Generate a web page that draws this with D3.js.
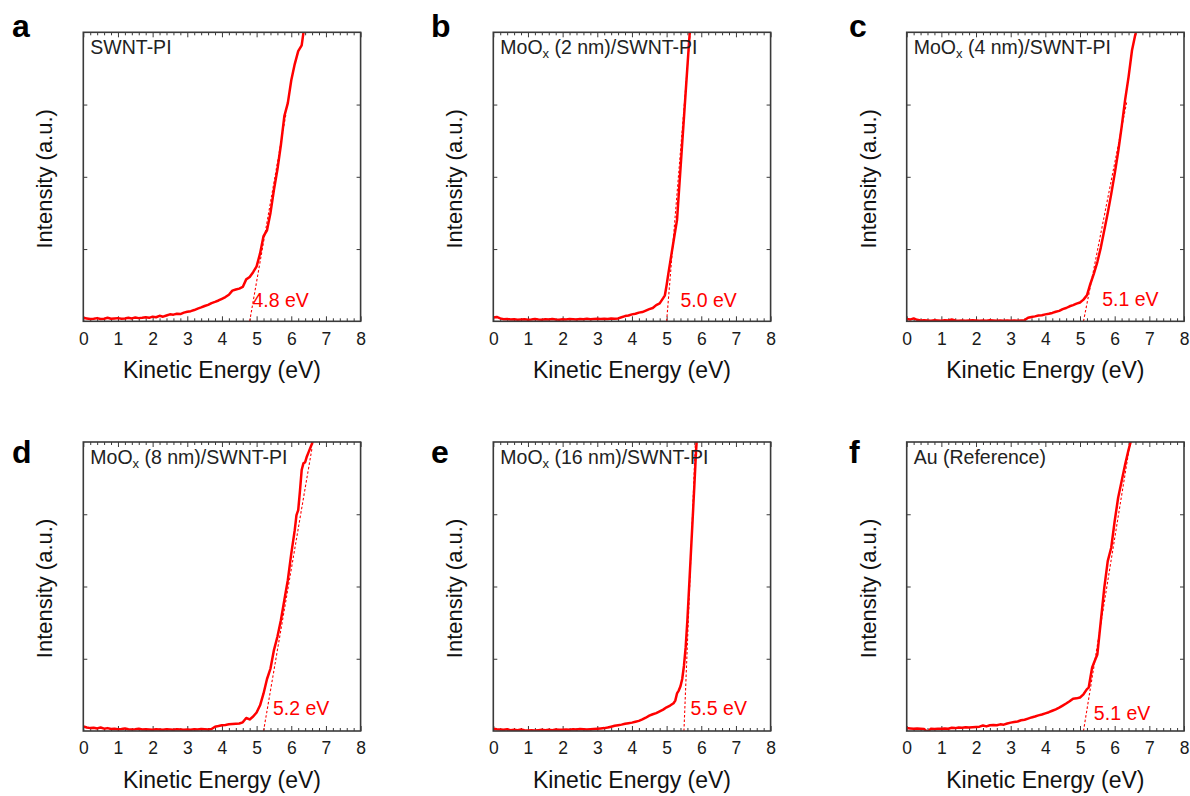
<!DOCTYPE html>
<html>
<head>
<meta charset="utf-8">
<script src="https://cdn.jsdelivr.net/npm/d3@7"></script>
<style>
  html, body { margin: 0; padding: 0; background: #fff; }
  svg { display: block; font-family: "Liberation Sans", Arial, Helvetica, sans-serif; }
</style>
</head>
<body>
<svg id="chart" width="1190" height="796"></svg>
<script>
// ---- Secondary-electron cutoff spectra (kinetic energy in eV, intensity in a.u.) ----
const panelLetters = ["a", "b", "c", "d", "e", "f"];
const sampleThickness = [null, "2 nm", "4 nm", "8 nm", "16 nm", null];
const sampleNames = ["SWNT-PI", "/SWNT-PI", "/SWNT-PI", "/SWNT-PI", "/SWNT-PI", "Au (Reference)"];
const cutoffEnergies = [4.8, 5.0, 5.1, 5.2, 5.5, 5.1];
const cutoffLabels = ["4.8 eV", "5.0 eV", "5.1 eV", "5.2 eV", "5.5 eV", "5.1 eV"];
// upper end of each linear extrapolation of the onset edge (eV, a.u.)
const fitEndEnergy = [5.85, 5.68, 6.35, 6.6, 5.83, 6.45];
const fitEndIntensity = [72, 100, 76, 98, 100, 100];
const xTickValues = [0, 1, 2, 3, 4, 5, 6, 7, 8];

// a: SWNT-PI
const energyA = [0.0,0.1,0.2,0.3,0.4,0.5,0.6,0.7,0.8,0.9,
  1.0,1.1,1.2,1.3,1.4,1.5,1.6,1.7,1.8,1.9,
  2.0,2.1,2.2,2.3,2.4,2.5,2.6,2.7,2.8,2.9,
  3.0,3.1,3.2,3.3,3.4,3.5,3.6,3.7,3.8,3.9,
  4.0,4.1,4.2,4.3,4.4,4.5,4.6,4.7,4.8,4.9,
  5.0,5.1,5.2,5.3,5.4,5.5,5.6,5.7,5.8,5.9,
  6.0,6.1,6.2,6.3,6.4];
const intensityA = [1.2,1.0,0.8,0.9,1.1,0.8,0.9,1.2,0.9,1.0,
  1.1,0.9,1.0,1.2,1.0,1.3,1.1,1.2,1.4,1.2,
  1.6,1.4,1.9,1.6,2.0,2.4,2.3,2.6,2.5,3.0,
  3.3,3.5,3.9,4.4,4.8,5.3,5.7,6.3,6.7,7.2,
  7.8,8.4,9.2,10.6,11.0,11.3,11.9,14.5,15.3,17.0,
  19.0,23.5,29.5,31.5,37.5,45.5,52.5,61.0,71.0,75.5,
  83.4,89.0,93.5,95.5,104];

// b: MoOx (2 nm)/SWNT-PI
const energyB = [0.0,0.1,0.2,0.3,0.4,0.5,0.6,0.7,0.8,0.9,
  1.0,1.1,1.2,1.3,1.4,1.5,1.6,1.7,1.8,1.9,
  2.0,2.1,2.2,2.3,2.4,2.5,2.6,2.7,2.8,2.9,
  3.0,3.1,3.2,3.3,3.4,3.5,3.6,3.7,3.8,3.9,
  4.0,4.1,4.2,4.3,4.4,4.5,4.6,4.7,4.8,4.9,
  4.95,5.0,5.05,5.1,5.15,5.2,5.25,5.3,5.35,5.4,
  5.45,5.5,5.55,5.6,5.65,5.7];
const intensityB = [1.3,1.5,1.0,0.7,0.8,0.6,0.7,0.5,0.6,0.7,
  0.5,0.6,0.8,0.6,0.5,0.7,0.6,0.8,0.6,0.5,
  0.7,0.6,0.8,0.7,0.6,0.8,0.7,0.9,0.7,0.8,
  0.9,0.8,0.9,0.8,1.0,0.9,1.0,1.4,1.8,2.0,
  2.4,2.6,3.0,3.2,3.7,4.2,4.6,5.6,6.2,8.0,
  9.0,12.5,16.5,20.2,24.0,27.7,31.4,35.0,43.9,52.7,
  61.6,70.4,79.3,88.1,97.0,105];

// c: MoOx (4 nm)/SWNT-PI
const energyC = [0.0,0.1,0.2,0.3,0.4,0.5,0.6,0.7,0.8,0.9,
  1.0,1.1,1.2,1.3,1.4,1.5,1.6,1.7,1.8,1.9,
  2.0,2.1,2.2,2.3,2.4,2.5,2.6,2.7,2.8,2.9,
  3.0,3.1,3.2,3.3,3.4,3.5,3.6,3.7,3.8,3.9,
  4.0,4.1,4.2,4.3,4.4,4.5,4.6,4.7,4.8,4.9,
  5.0,5.1,5.2,5.3,5.4,5.5,5.6,5.7,5.8,5.9,
  6.0,6.1,6.2,6.3,6.4,6.5,6.6,6.7];
const intensityC = [0.8,0.6,1.0,0.5,0.3,0.4,0.3,0.2,0.4,0.3,
  0.2,0.4,0.3,0.6,0.3,0.2,0.3,0.2,0.3,0.4,
  0.3,0.2,0.3,0.2,0.4,0.3,0.2,0.3,0.2,0.3,
  0.2,0.3,0.2,0.3,0.4,1.2,1.5,1.7,2.0,2.1,
  2.4,2.6,2.9,3.3,3.6,4.2,4.6,5.2,5.6,6.1,
  6.5,7.5,9.0,13.0,16.5,20.5,25.5,31.5,37.5,44.0,
  51.0,58.6,67.2,76.5,84.5,93.8,99.5,106];

// d: MoOx (8 nm)/SWNT-PI
const energyD = [0.0,0.1,0.2,0.3,0.4,0.5,0.6,0.7,0.8,0.9,
  1.0,1.1,1.2,1.3,1.4,1.5,1.6,1.7,1.8,1.9,
  2.0,2.1,2.2,2.3,2.4,2.5,2.6,2.7,2.8,2.9,
  3.0,3.1,3.2,3.3,3.4,3.5,3.6,3.7,3.8,3.9,
  4.0,4.1,4.2,4.3,4.4,4.5,4.6,4.7,4.8,4.9,
  5.0,5.1,5.2,5.3,5.4,5.5,5.6,5.7,5.8,5.9,
  6.0,6.1,6.15,6.2,6.25,6.3,6.35,6.4,6.45,6.5,
  6.6,6.7];
const intensityD = [1.6,1.2,1.0,1.1,0.9,1.2,0.8,1.0,0.7,0.8,
  0.6,0.7,0.9,0.6,0.5,0.6,0.8,0.5,0.6,0.5,
  0.4,0.6,0.5,0.4,0.6,0.5,0.4,0.6,0.5,0.4,
  0.5,0.4,0.6,0.5,0.7,0.6,0.5,0.7,1.5,1.7,
  2.0,2.1,2.3,2.4,2.5,2.6,3.0,4.5,4.0,5.0,
  6.4,8.9,13.0,18.0,21.6,28.0,32.6,38.3,45.3,52.2,
  61.4,69.5,74.7,76.4,83.0,90.3,92.6,93.0,95.0,96.5,
  99.5,106];

// e: MoOx (16 nm)/SWNT-PI
const energyE = [0.0,0.1,0.2,0.3,0.4,0.5,0.6,0.7,0.8,0.9,
  1.0,1.1,1.2,1.3,1.4,1.5,1.6,1.7,1.8,1.9,
  2.0,2.1,2.2,2.3,2.4,2.5,2.6,2.7,2.8,2.9,
  3.0,3.1,3.2,3.3,3.4,3.5,3.6,3.7,3.8,3.9,
  4.0,4.1,4.2,4.3,4.4,4.5,4.6,4.7,4.8,4.9,
  5.0,5.1,5.2,5.25,5.3,5.35,5.4,5.45,5.5,5.55,
  5.6,5.65,5.7,5.75,5.8,5.85,5.9];
const intensityE = [0.8,0.6,0.5,0.4,0.6,0.3,0.4,0.3,0.5,0.3,
  0.2,0.3,0.2,0.3,0.4,0.3,0.4,0.3,0.5,0.4,
  0.4,0.5,0.4,0.6,0.5,0.7,0.6,0.5,0.6,0.7,
  0.8,0.9,1.0,1.2,1.5,1.8,2.0,2.2,2.5,2.7,
  2.9,3.2,3.5,4.0,4.6,5.3,5.8,6.2,6.8,7.4,
  8.2,8.8,9.6,10.5,13.0,14.0,15.5,18.0,22.5,29.0,
  38.5,50.0,61.5,73.0,84.8,97.0,106];

// f: Au (Reference)
const energyF = [0.0,0.1,0.2,0.3,0.4,0.5,0.6,0.7,0.8,0.9,
  1.0,1.1,1.2,1.3,1.4,1.5,1.6,1.7,1.8,1.9,
  2.0,2.1,2.2,2.3,2.4,2.5,2.6,2.7,2.8,2.9,
  3.0,3.1,3.2,3.3,3.4,3.5,3.6,3.7,3.8,3.9,
  4.0,4.1,4.2,4.3,4.4,4.5,4.6,4.7,4.8,4.9,
  5.0,5.1,5.2,5.25,5.3,5.35,5.4,5.5,5.6,5.7,
  5.8,5.9,6.0,6.1,6.2,6.3,6.4,6.45,6.5];
const intensityF = [1.0,0.9,0.8,0.9,0.8,0.7,-0.3,0.8,0.7,0.8,
  0.8,0.9,0.8,1.1,1.0,1.2,1.1,1.3,1.2,1.3,
  1.4,1.5,1.9,1.6,2.0,2.1,2.0,2.3,2.2,2.6,
  2.9,3.1,3.3,3.7,3.9,4.3,4.7,5.0,5.4,5.7,
  6.1,6.5,7.0,7.5,8.1,8.8,9.5,10.3,11.2,11.3,
  11.6,12.7,14.5,15.0,18.5,22.0,23.5,26.5,38.0,49.5,
  58.8,63.4,72.6,80.7,86.4,92.1,97.3,99.5,103];

const energies = [energyA, energyB, energyC, energyD, energyE, energyF];
const intensities = [intensityA, intensityB, intensityC, intensityD, intensityE, intensityF];

// ---- Layout ----
const colLeft = [83.3, 493.3, 906.7];
const rowTop = [32.3, 442];
const plotW = 277.3, plotH = 289;
const letterX = [12, 431, 849];
const letterY = [37, 463];
// position of the cutoff value text (eV offset from the cutoff, a.u.)
const labelShiftE = [0.08, 0.40, 0.54, 0.27, 0.19, 0.30];
const labelAtI = [4.8, 4.8, 5.2, 5.4, 5.7, 3.8];

const red = "#ff0000";
const frameColor = "#3a3a3a";
const svg = d3.select("#chart");

panelLetters.forEach((letter, k) => {
  const col = k % 3, row = Math.floor(k / 3);
  const left = colLeft[col], top = rowTop[row];

  const x = d3.scaleLinear().domain([0, 8]).range([0, plotW]);
  const y = d3.scaleLinear().domain([0, 100]).range([plotH, 0]);

  svg.append("text")
    .attr("x", letterX[col]).attr("y", letterY[row])
    .attr("font-size", 32).attr("font-weight", "bold").attr("fill", "#000")
    .text(letter);

  const g = svg.append("g").attr("transform", `translate(${left},${top})`);

  const clipId = "clip-" + letter;
  g.append("clipPath").attr("id", clipId)
    .append("rect").attr("x", 0).attr("y", 0).attr("width", plotW).attr("height", plotH);

  // minor and major ticks on all four sides, pointing inward
  const minorVals = d3.range(0, 8.0001, 0.2).filter(v => Math.abs(v - Math.round(v)) > 1e-6);
  const styleAxis = sel => {
    sel.select(".domain").remove();
    sel.selectAll("line").attr("stroke", frameColor).attr("stroke-width", 1);
  };
  g.append("g").attr("transform", `translate(0,${plotH})`)
    .call(d3.axisBottom(x).tickValues(minorVals).tickSize(-3).tickFormat(""))
    .call(styleAxis);
  g.append("g")
    .call(d3.axisTop(x).tickValues(minorVals).tickSize(-3).tickFormat(""))
    .call(styleAxis);
  g.append("g")
    .call(d3.axisTop(x).tickValues(xTickValues).tickSize(-5).tickFormat(""))
    .call(styleAxis);
  const bottomAxis = g.append("g").attr("transform", `translate(0,${plotH})`)
    .call(d3.axisBottom(x).tickValues(xTickValues).tickSizeInner(-5).tickSizeOuter(0).tickPadding(11).tickFormat(d3.format("d")))
    .call(styleAxis);
  bottomAxis.selectAll("text")
    .attr("font-size", 17.5).attr("fill", "#1a1a1a")
    .style("font-family", "'Liberation Sans', Arial, Helvetica, sans-serif");
  g.append("g")
    .call(d3.axisLeft(y).tickValues([25, 50, 75]).tickSize(-4).tickFormat(""))
    .call(styleAxis);
  g.append("g").attr("transform", `translate(${plotW},0)`)
    .call(d3.axisRight(y).tickValues([25, 50, 75]).tickSize(-4).tickFormat(""))
    .call(styleAxis);

  // linear extrapolation of the onset edge
  const fit = [[cutoffEnergies[k], 0], [fitEndEnergy[k], fitEndIntensity[k]]];
  g.append("path")
    .attr("clip-path", `url(#${clipId})`)
    .attr("d", d3.line().x(d => x(d[0])).y(d => y(d[1]))(fit))
    .attr("fill", "none").attr("stroke", red).attr("stroke-width", 1.1)
    .attr("stroke-dasharray", "2.5,2");

  // spectrum
  const pts = energies[k].map((e, i) => [e, intensities[k][i]]);
  g.append("path")
    .attr("clip-path", `url(#${clipId})`)
    .attr("d", d3.line().x(d => x(d[0])).y(d => y(d[1]))(pts))
    .attr("fill", "none").attr("stroke", red).attr("stroke-width", 2.5)
    .attr("stroke-linejoin", "round");

  // frame
  g.append("rect")
    .attr("width", plotW).attr("height", plotH)
    .attr("fill", "none").attr("stroke", frameColor).attr("stroke-width", 1.6);

  // sample name
  const title = g.append("text").attr("x", 7).attr("y", 22)
    .attr("font-size", 19.5).attr("fill", "#222");
  if (sampleThickness[k]) {
    title.append("tspan").text("MoO");
    title.append("tspan").attr("font-size", 13).attr("dy", 4).text("x");
    title.append("tspan").attr("dy", -4).text(" (" + sampleThickness[k] + ")" + sampleNames[k]);
  } else {
    title.text(sampleNames[k]);
  }

  // cutoff value
  g.append("text")
    .attr("x", x(cutoffEnergies[k] + labelShiftE[k]))
    .attr("y", y(labelAtI[k]))
    .attr("font-size", 19.5).attr("fill", red)
    .text(cutoffLabels[k]);

  // axis titles
  g.append("text")
    .attr("x", plotW / 2).attr("y", plotH + 57)
    .attr("text-anchor", "middle").attr("font-size", 23).attr("fill", "#111")
    .text("Kinetic Energy (eV)");
  g.append("text")
    .attr("transform", `translate(-31,${plotH / 2 + 2}) rotate(-90)`)
    .attr("text-anchor", "middle").attr("font-size", 22).attr("fill", "#111")
    .text("Intensity (a.u.)");
});
</script>
</body>
</html>
